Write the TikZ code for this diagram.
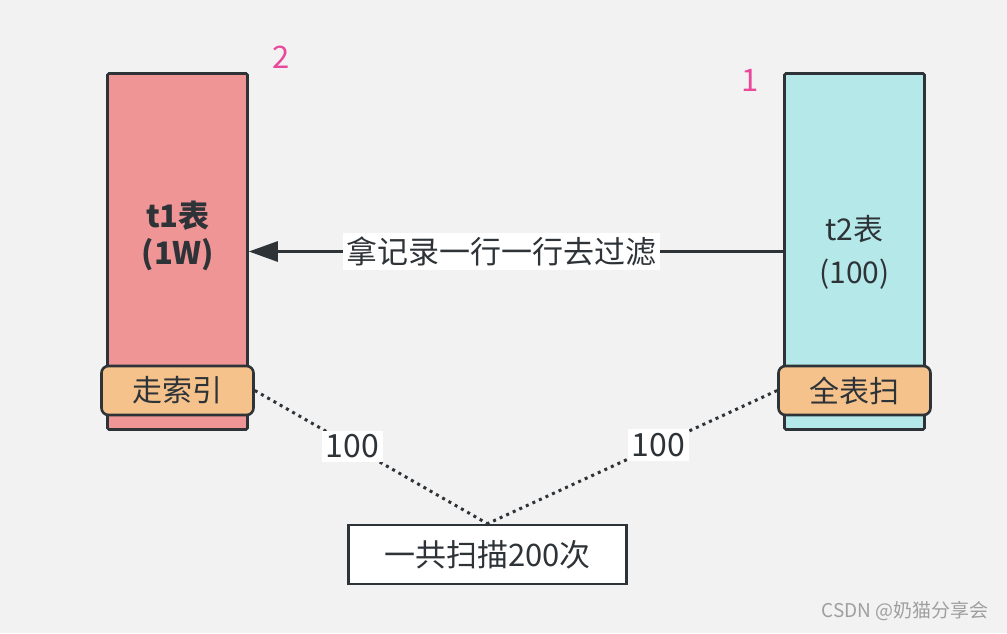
\documentclass[tikz,border=0pt]{standalone}
\usepackage{fontspec}
\setmainfont{Noto Sans CJK SC}
\usepackage{xcolor}
\usepackage{tikz}
\usetikzlibrary{arrows.meta, positioning}

\definecolor{bggray}{HTML}{F2F2F2}
\definecolor{tonered}{HTML}{F09595}
\definecolor{ttwocyan}{HTML}{B5E9E9}
\definecolor{scanorange}{HTML}{F5C28C}
\definecolor{edgedark}{HTML}{2E3338}
\definecolor{steppink}{HTML}{E9489B}

\begin{document}
\begin{tikzpicture}[
  x=1pt, y=-1pt,
  tablebox/.style={draw=edgedark, line width=2.6pt, rounded corners=1.5pt, minimum width=140pt, minimum height=356pt, inner sep=0pt},
  scanbox/.style={draw=edgedark, line width=2.6pt, rounded corners=7pt, fill=scanorange, minimum width=152pt, minimum height=49pt, inner sep=0pt, text=edgedark, font=\fontsize{30}{32}\selectfont},
  lbl/.style={fill=white, inner sep=3.5pt, text=edgedark, font=\fontsize{31}{33}\selectfont},
  numlbl/.style={fill=white, inner sep=4pt, text=edgedark, font=\fontsize{32}{34}\selectfont},
  arrow/.style={-{Triangle[length=29pt, width=20pt]}, line width=3pt, edgedark},
  dots/.style={line width=3pt, dash pattern=on 3pt off 4.2pt, edgedark},
]

% Background
\fill[bggray] (0,0) rectangle (1007,633);

% Tables
\node[tablebox, fill=tonered] (t1) at (177.5,251.5) {};
\node[tablebox, fill=ttwocyan] (t2) at (854.5,251.5) {};
\node[align=center, text=edgedark, font=\bfseries\fontsize{31}{37}\selectfont] (t1txt) at (178,236) {t1表\\(1W)};
\node[align=center, text=edgedark, font=\fontsize{30}{43}\selectfont] (t2txt) at (854.5,252) {t2表\\(100)};

% Order of reading
\node[text=steppink, font=\fontsize{31}{33}\selectfont] (ord2) at (281,57) {2};
\node[text=steppink, font=\fontsize{31}{33}\selectfont] (ord1) at (750,80) {1};

% Access methods
\node[scanbox] (idx) at (177.5,390.5) {走索引};
\node[scanbox] (full) at (854.5,390.5) {全表扫};

% Result
\node[draw=edgedark, line width=2.6pt, fill=white, minimum width=278pt, minimum height=59pt, text=edgedark, font=\fontsize{31}{33}\selectfont] (total) at (487.5,554.5) {一共扫描200次};

% Arrows
\draw[arrow] (t2.west) -- (t1.east) node[lbl, pos=0.527] (filter) {拿记录一行一行去过滤};
\draw[dots] (idx.east) -- (total.north) node[numlbl, pos=0.42] (cntl) {100};
\draw[dots] (full.west) -- (total.north) node[numlbl, pos=0.41] (cntr) {100};

% Watermark
\node[text=gray!75, font=\fontsize{19}{21}\selectfont] (mark) at (905,611) {CSDN @奶猫分享会};

\end{tikzpicture}
\end{document}
